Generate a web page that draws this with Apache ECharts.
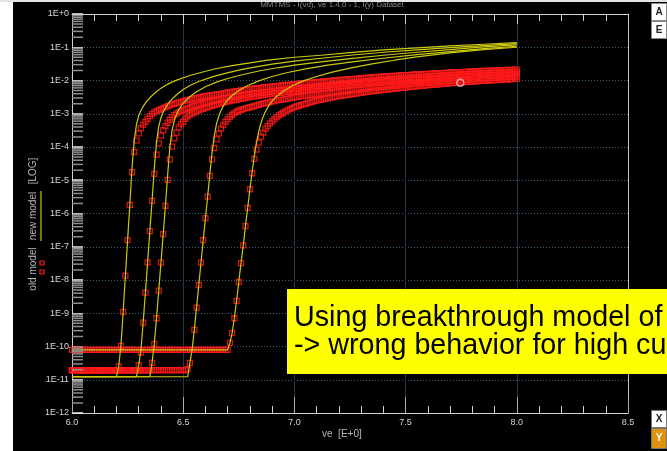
<!DOCTYPE html>
<html>
<head>
<meta charset="utf-8">
<script src="https://cdn.jsdelivr.net/npm/echarts@6/dist/echarts.min.js"></script>
<style>
  html, body { margin: 0; padding: 0; background: #ffffff; }
  #chart { width: 667px; height: 451px; }
</style>
</head>
<body>
<div id="chart"></div>
<script>
// Sweep of ve: 6.00 ... 8.00 V in 0.01 V steps (one old-model sample per step)
const veStart = 6.0;
const veStep = 0.01;
const veCount = 201;

// Axis ranges and tick spacing
const veMin = 6.0, veMax = 8.5, veTickStep = 0.5;
const logMin = -12, logMax = 0, logTickStep = 1;
const logMinorSteps = [2, 3, 4, 5, 6, 7, 8, 9];

// Old model: log10(current), one row = 10 samples (6.00-6.09, 6.10-6.19, ...), last value at 8.00
const oldModelA = [
  -10.71,-10.71,-10.71,-10.71,-10.71,-10.71,-10.71,-10.71,-10.71,-10.71,
  -10.71,-10.71,-10.71,-10.71,-10.71,-10.71,-10.71,-10.71,-10.71,-10.71,
  -10.71,-10.60,-9.98,-8.96,-7.87,-6.80,-5.74,-4.76,-4.15,-3.81,
  -3.59,-3.43,-3.33,-3.24,-3.15,-3.07,-3.01,-2.96,-2.92,-2.89,
  -2.86,-2.83,-2.80,-2.77,-2.75,-2.72,-2.70,-2.68,-2.66,-2.64,
  -2.62,-2.60,-2.59,-2.57,-2.56,-2.54,-2.53,-2.51,-2.50,-2.48,
  -2.47,-2.46,-2.45,-2.44,-2.43,-2.42,-2.41,-2.40,-2.39,-2.37,
  -2.36,-2.35,-2.34,-2.33,-2.32,-2.31,-2.30,-2.29,-2.28,-2.27,
  -2.26,-2.25,-2.24,-2.24,-2.23,-2.22,-2.21,-2.20,-2.20,-2.19,
  -2.18,-2.17,-2.17,-2.16,-2.15,-2.15,-2.14,-2.13,-2.13,-2.12,
  -2.11,-2.10,-2.10,-2.09,-2.09,-2.08,-2.07,-2.07,-2.06,-2.06,
  -2.05,-2.04,-2.04,-2.03,-2.03,-2.02,-2.01,-2.01,-2.00,-2.00,
  -1.99,-1.98,-1.98,-1.97,-1.97,-1.96,-1.96,-1.95,-1.95,-1.94,
  -1.93,-1.93,-1.92,-1.92,-1.91,-1.91,-1.90,-1.90,-1.89,-1.89,
  -1.88,-1.88,-1.87,-1.87,-1.86,-1.86,-1.86,-1.85,-1.85,-1.84,
  -1.84,-1.84,-1.83,-1.83,-1.82,-1.82,-1.82,-1.81,-1.81,-1.80,
  -1.80,-1.80,-1.79,-1.79,-1.79,-1.78,-1.78,-1.77,-1.77,-1.77,
  -1.76,-1.76,-1.76,-1.75,-1.75,-1.75,-1.74,-1.74,-1.74,-1.73,
  -1.73,-1.73,-1.72,-1.72,-1.72,-1.71,-1.71,-1.71,-1.70,-1.70,
  -1.70,-1.69,-1.69,-1.69,-1.69,-1.68,-1.68,-1.68,-1.68,-1.67,
  -1.67
];
const oldModelB = [
  -10.71,-10.71,-10.71,-10.71,-10.71,-10.71,-10.71,-10.71,-10.71,-10.71,
  -10.71,-10.71,-10.71,-10.71,-10.71,-10.71,-10.71,-10.71,-10.71,-10.71,
  -10.71,-10.71,-10.71,-10.71,-10.71,-10.71,-10.71,-10.71,-10.71,-10.71,
  -10.56,-10.18,-9.28,-8.38,-7.47,-6.53,-5.62,-4.81,-4.23,-3.89,
  -3.66,-3.49,-3.37,-3.27,-3.18,-3.10,-3.04,-2.99,-2.95,-2.92,
  -2.89,-2.86,-2.83,-2.81,-2.78,-2.76,-2.74,-2.72,-2.70,-2.68,
  -2.67,-2.65,-2.64,-2.62,-2.61,-2.59,-2.58,-2.57,-2.56,-2.54,
  -2.53,-2.52,-2.51,-2.50,-2.49,-2.47,-2.46,-2.45,-2.44,-2.43,
  -2.42,-2.41,-2.40,-2.39,-2.38,-2.37,-2.37,-2.36,-2.35,-2.34,
  -2.33,-2.32,-2.31,-2.31,-2.30,-2.29,-2.28,-2.27,-2.27,-2.26,
  -2.25,-2.24,-2.24,-2.23,-2.22,-2.22,-2.21,-2.20,-2.20,-2.19,
  -2.18,-2.17,-2.17,-2.16,-2.15,-2.15,-2.14,-2.13,-2.13,-2.12,
  -2.11,-2.10,-2.10,-2.09,-2.08,-2.08,-2.07,-2.07,-2.06,-2.05,
  -2.05,-2.04,-2.03,-2.03,-2.02,-2.01,-2.01,-2.00,-1.99,-1.99,
  -1.98,-1.98,-1.97,-1.97,-1.96,-1.96,-1.95,-1.95,-1.94,-1.94,
  -1.93,-1.93,-1.92,-1.92,-1.91,-1.91,-1.90,-1.90,-1.89,-1.89,
  -1.88,-1.88,-1.87,-1.87,-1.86,-1.86,-1.86,-1.85,-1.85,-1.84,
  -1.84,-1.84,-1.83,-1.83,-1.82,-1.82,-1.82,-1.81,-1.81,-1.80,
  -1.80,-1.80,-1.79,-1.79,-1.79,-1.78,-1.78,-1.78,-1.77,-1.77,
  -1.77,-1.76,-1.76,-1.76,-1.76,-1.75,-1.75,-1.75,-1.75,-1.74,
  -1.74
];
const oldModelC = [
  -10.71,-10.71,-10.71,-10.71,-10.71,-10.71,-10.71,-10.71,-10.71,-10.71,
  -10.71,-10.71,-10.71,-10.71,-10.71,-10.71,-10.71,-10.71,-10.71,-10.71,
  -10.71,-10.71,-10.71,-10.71,-10.71,-10.71,-10.71,-10.71,-10.71,-10.71,
  -10.71,-10.71,-10.71,-10.71,-10.71,-10.71,-10.49,-9.92,-9.15,-8.32,
  -7.48,-6.62,-5.77,-4.99,-4.37,-3.99,-3.74,-3.57,-3.41,-3.31,
  -3.24,-3.15,-3.08,-3.03,-2.99,-2.96,-2.93,-2.90,-2.87,-2.85,
  -2.82,-2.80,-2.78,-2.76,-2.74,-2.72,-2.70,-2.68,-2.66,-2.65,
  -2.63,-2.62,-2.60,-2.59,-2.58,-2.56,-2.55,-2.54,-2.53,-2.51,
  -2.50,-2.49,-2.48,-2.47,-2.46,-2.45,-2.44,-2.43,-2.42,-2.41,
  -2.40,-2.39,-2.38,-2.38,-2.37,-2.36,-2.35,-2.34,-2.34,-2.33,
  -2.32,-2.31,-2.31,-2.30,-2.29,-2.29,-2.28,-2.27,-2.27,-2.26,
  -2.25,-2.24,-2.24,-2.23,-2.22,-2.22,-2.21,-2.20,-2.20,-2.19,
  -2.18,-2.17,-2.17,-2.16,-2.15,-2.15,-2.14,-2.14,-2.13,-2.12,
  -2.12,-2.11,-2.10,-2.10,-2.09,-2.08,-2.08,-2.07,-2.06,-2.06,
  -2.05,-2.05,-2.04,-2.04,-2.03,-2.03,-2.02,-2.02,-2.01,-2.01,
  -2.00,-2.00,-1.99,-1.99,-1.98,-1.98,-1.97,-1.97,-1.96,-1.96,
  -1.95,-1.95,-1.94,-1.94,-1.93,-1.93,-1.93,-1.92,-1.92,-1.91,
  -1.91,-1.91,-1.90,-1.90,-1.89,-1.89,-1.89,-1.88,-1.88,-1.87,
  -1.87,-1.87,-1.86,-1.86,-1.86,-1.85,-1.85,-1.85,-1.84,-1.84,
  -1.84,-1.83,-1.83,-1.83,-1.82,-1.82,-1.82,-1.81,-1.81,-1.80,
  -1.80
];
const oldModelD = [
  -10.71,-10.71,-10.71,-10.71,-10.71,-10.71,-10.71,-10.71,-10.71,-10.71,
  -10.71,-10.71,-10.71,-10.71,-10.71,-10.71,-10.71,-10.71,-10.71,-10.71,
  -10.71,-10.71,-10.71,-10.71,-10.71,-10.71,-10.71,-10.71,-10.71,-10.71,
  -10.71,-10.71,-10.71,-10.71,-10.71,-10.71,-10.71,-10.71,-10.71,-10.71,
  -10.71,-10.71,-10.71,-10.71,-10.71,-10.71,-10.71,-10.71,-10.71,-10.71,
  -10.71,-10.71,-10.68,-10.49,-10.10,-9.50,-8.83,-8.15,-7.48,-6.80,
  -6.14,-5.49,-4.87,-4.37,-4.03,-3.77,-3.59,-3.45,-3.34,-3.24,
  -3.16,-3.09,-3.03,-2.98,-2.94,-2.91,-2.88,-2.86,-2.84,-2.82,
  -2.81,-2.79,-2.77,-2.75,-2.73,-2.71,-2.69,-2.68,-2.66,-2.65,
  -2.63,-2.62,-2.60,-2.59,-2.58,-2.57,-2.56,-2.55,-2.53,-2.52,
  -2.51,-2.50,-2.49,-2.48,-2.47,-2.46,-2.45,-2.44,-2.43,-2.42,
  -2.42,-2.41,-2.40,-2.39,-2.38,-2.37,-2.36,-2.36,-2.35,-2.34,
  -2.33,-2.32,-2.32,-2.31,-2.30,-2.29,-2.29,-2.28,-2.27,-2.26,
  -2.26,-2.25,-2.24,-2.23,-2.23,-2.22,-2.21,-2.20,-2.20,-2.19,
  -2.18,-2.17,-2.17,-2.16,-2.16,-2.15,-2.14,-2.14,-2.13,-2.13,
  -2.12,-2.11,-2.11,-2.10,-2.10,-2.09,-2.08,-2.08,-2.07,-2.07,
  -2.06,-2.06,-2.05,-2.05,-2.04,-2.04,-2.03,-2.03,-2.02,-2.02,
  -2.01,-2.01,-2.00,-2.00,-1.99,-1.99,-1.98,-1.98,-1.97,-1.97,
  -1.96,-1.96,-1.95,-1.95,-1.94,-1.94,-1.94,-1.93,-1.93,-1.92,
  -1.92,-1.92,-1.91,-1.91,-1.90,-1.90,-1.90,-1.89,-1.89,-1.88,
  -1.88
];
const oldModelE = [
  -10.10,-10.10,-10.10,-10.10,-10.10,-10.10,-10.10,-10.10,-10.10,-10.10,
  -10.10,-10.10,-10.10,-10.10,-10.10,-10.10,-10.10,-10.10,-10.10,-10.10,
  -10.10,-10.10,-10.10,-10.10,-10.10,-10.10,-10.10,-10.10,-10.10,-10.10,
  -10.10,-10.10,-10.10,-10.10,-10.10,-10.10,-10.10,-10.10,-10.10,-10.10,
  -10.10,-10.10,-10.10,-10.10,-10.10,-10.10,-10.10,-10.10,-10.10,-10.10,
  -10.10,-10.10,-10.10,-10.10,-10.10,-10.10,-10.10,-10.10,-10.10,-10.10,
  -10.10,-10.10,-10.10,-10.10,-10.10,-10.10,-10.10,-10.10,-10.10,-10.10,
  -10.10,-9.89,-9.60,-9.15,-8.63,-8.06,-7.49,-6.96,-6.38,-5.83,
  -5.27,-4.79,-4.36,-4.08,-3.87,-3.69,-3.57,-3.45,-3.37,-3.29,
  -3.22,-3.16,-3.10,-3.05,-3.01,-2.97,-2.93,-2.90,-2.86,-2.83,
  -2.80,-2.78,-2.76,-2.74,-2.72,-2.70,-2.68,-2.66,-2.64,-2.62,
  -2.60,-2.59,-2.58,-2.56,-2.55,-2.54,-2.52,-2.51,-2.50,-2.48,
  -2.47,-2.46,-2.45,-2.44,-2.43,-2.42,-2.41,-2.40,-2.39,-2.38,
  -2.37,-2.36,-2.35,-2.34,-2.33,-2.32,-2.31,-2.30,-2.30,-2.29,
  -2.28,-2.27,-2.27,-2.26,-2.25,-2.24,-2.24,-2.23,-2.22,-2.22,
  -2.21,-2.20,-2.19,-2.19,-2.18,-2.17,-2.17,-2.16,-2.15,-2.15,
  -2.14,-2.13,-2.13,-2.12,-2.12,-2.11,-2.11,-2.10,-2.10,-2.09,
  -2.08,-2.08,-2.07,-2.07,-2.06,-2.06,-2.05,-2.05,-2.04,-2.04,
  -2.03,-2.03,-2.02,-2.02,-2.01,-2.01,-2.01,-2.00,-2.00,-1.99,
  -1.99,-1.99,-1.98,-1.98,-1.97,-1.97,-1.97,-1.96,-1.96,-1.95,
  -1.95
];

// New model: [ve, log10(current)] breakpoints of each curve
const newModelA = [
  [6.00,-10.91],[6.20,-10.91],[6.21,-10.60],[6.22,-9.98],[6.23,-8.96],[6.24,-7.87],
  [6.25,-6.80],[6.26,-5.74],[6.27,-4.60],[6.28,-3.80],[6.29,-3.32],[6.30,-3.06],
  [6.31,-2.90],[6.32,-2.78],[6.33,-2.68],[6.34,-2.59],[6.35,-2.52],[6.37,-2.39],
  [6.40,-2.23],[6.43,-2.11],[6.47,-1.99],[6.53,-1.85],[6.58,-1.76],[6.65,-1.64],
  [6.72,-1.55],[6.80,-1.47],[6.88,-1.39],[7.00,-1.30],[7.12,-1.24],[7.25,-1.16],
  [7.40,-1.08],[7.55,-1.02],[7.70,-0.96],[7.85,-0.91],[8.00,-0.86]
];
const newModelB = [
  [6.00,-10.91],[6.29,-10.91],[6.30,-10.56],[6.31,-10.10],[6.32,-9.28],[6.33,-8.38],
  [6.34,-7.47],[6.35,-6.53],[6.36,-5.62],[6.37,-4.65],[6.38,-3.85],[6.39,-3.38],
  [6.40,-3.12],[6.41,-2.95],[6.42,-2.82],[6.43,-2.72],[6.44,-2.63],[6.45,-2.56],
  [6.47,-2.43],[6.50,-2.27],[6.53,-2.15],[6.57,-2.03],[6.63,-1.89],[6.68,-1.80],
  [6.75,-1.69],[6.82,-1.60],[6.90,-1.51],[7.00,-1.42],[7.12,-1.33],[7.25,-1.24],
  [7.40,-1.15],[7.55,-1.08],[7.70,-1.01],[7.85,-0.95],[8.00,-0.89]
];
const newModelC = [
  [6.00,-10.91],[6.35,-10.91],[6.36,-10.49],[6.37,-9.92],[6.38,-9.15],[6.39,-8.32],
  [6.40,-7.48],[6.41,-6.62],[6.42,-5.77],[6.43,-4.85],[6.44,-4.00],[6.45,-3.50],
  [6.46,-3.20],[6.47,-3.02],[6.48,-2.88],[6.49,-2.77],[6.50,-2.68],[6.51,-2.61],
  [6.53,-2.49],[6.56,-2.34],[6.60,-2.19],[6.65,-2.05],[6.70,-1.94],[6.77,-1.82],
  [6.85,-1.70],[6.93,-1.61],[7.00,-1.54],[7.12,-1.44],[7.25,-1.34],[7.40,-1.24],
  [7.55,-1.15],[7.70,-1.07],[7.85,-0.99],[8.00,-0.93]
];
const newModelD = [
  [6.00,-10.91],[6.52,-10.91],[6.53,-10.49],[6.54,-10.10],[6.55,-9.50],[6.56,-8.83],
  [6.57,-8.15],[6.58,-7.48],[6.59,-6.80],[6.60,-6.14],[6.61,-5.49],[6.62,-4.80],
  [6.63,-4.15],[6.64,-3.65],[6.65,-3.30],[6.66,-3.07],[6.67,-2.90],[6.68,-2.77],
  [6.69,-2.67],[6.70,-2.58],[6.72,-2.45],[6.75,-2.30],[6.79,-2.15],[6.84,-2.01],
  [6.90,-1.88],[6.97,-1.76],[7.05,-1.65],[7.15,-1.54],[7.27,-1.43],[7.40,-1.33],
  [7.55,-1.22],[7.70,-1.13],[7.85,-1.04],[8.00,-0.97]
];
const newModelE = [
  [6.00,-10.10],[6.70,-10.10],[6.71,-9.89],[6.72,-9.60],[6.73,-9.15],[6.74,-8.63],
  [6.75,-8.06],[6.76,-7.49],[6.77,-6.96],[6.78,-6.38],[6.79,-5.83],[6.80,-5.27],
  [6.81,-4.75],[6.82,-4.25],[6.83,-3.85],[6.84,-3.52],[6.85,-3.27],[6.86,-3.08],
  [6.87,-2.93],[6.88,-2.81],[6.89,-2.71],[6.90,-2.62],[6.92,-2.48],[6.95,-2.32],
  [6.99,-2.16],[7.04,-2.01],[7.10,-1.88],[7.17,-1.75],[7.25,-1.63],[7.35,-1.50],
  [7.45,-1.39],[7.55,-1.29],[7.70,-1.17],[7.85,-1.07],[8.00,-1.00]
];

// Highlighted (cursor) sample
const cursorPoint = [[7.746, -2.07]];

const oldModelCurves = [oldModelA, oldModelB, oldModelC, oldModelD, oldModelE];
const newModelCurves = [newModelA, newModelB, newModelC, newModelD, newModelE];

const veGrid = [];
for (let i = 0; i < veCount; i++) veGrid.push(+(veStart + i * veStep).toFixed(2));

// Log-axis minor tick positions (2..9 within every decade)
const logMinorTicks = [];
for (let e = logMin; e < logMax; e++) {
  logMinorSteps.forEach(m => logMinorTicks.push([veMin, e + Math.log10(m)]));
}

const FONT = 'Liberation Sans, Arial, sans-serif';
const RED = '#ff1a1a';
const YELLOW = '#cdc90c';

const chart = echarts.init(document.getElementById('chart'), null, { renderer: 'canvas' });

const series = [];
oldModelCurves.forEach(curve => {
  series.push({
    type: 'scatter',
    xAxisIndex: 0, yAxisIndex: 0,
    data: curve.map((y, i) => [veGrid[i], y]),
    symbol: 'rect',
    symbolSize: 5,
    itemStyle: { color: 'rgba(0,0,0,0)', borderColor: RED, borderWidth: 1.3 },
    silent: true,
    z: 3
  });
});
newModelCurves.forEach(curve => {
  series.push({
    type: 'line',
    xAxisIndex: 0, yAxisIndex: 0,
    data: curve,
    showSymbol: false,
    lineStyle: { color: YELLOW, width: 1.2 },
    silent: true,
    z: 4
  });
});
series.push({
  type: 'scatter',
  xAxisIndex: 0, yAxisIndex: 0,
  data: cursorPoint,
  symbol: 'circle',
  symbolSize: 7,
  itemStyle: { color: 'rgba(0,0,0,0)', borderColor: '#f2c6c6', borderWidth: 1.5 },
  silent: true,
  z: 6
});
series.push({
  type: 'custom',
  xAxisIndex: 0, yAxisIndex: 0,
  data: logMinorTicks,
  silent: true,
  clip: false,
  z: 5,
  renderItem: (params, api) => {
    const p = api.coord([api.value(0), api.value(1)]);
    return {
      type: 'line',
      shape: { x1: p[0], y1: p[1], x2: p[0] + 11, y2: p[1] },
      style: { stroke: '#8e8e8e', lineWidth: 1.5 }
    };
  }
});

const xAxisBase = {
  type: 'value',
  min: veMin,
  max: veMax,
  interval: veTickStep
};

chart.setOption({
  animation: false,
  backgroundColor: '#000000',
  grid: { left: 72, top: 14, width: 556, height: 399, containLabel: false },
  xAxis: [
    Object.assign({}, xAxisBase, {
      position: 'bottom',
      axisLine: { show: true, onZero: false, lineStyle: { color: '#d0d0d0', width: 1 } },
      axisTick: { show: true, inside: true, length: 16, lineStyle: { color: '#9fb2be', width: 1 } },
      minorTick: { show: true, splitNumber: 5, length: 7, lineStyle: { color: '#cfcfcf', width: 1 } },
      axisLabel: { color: '#d6d6d6', fontSize: 9, fontFamily: FONT, margin: 5, formatter: v => v.toFixed(1) },
      splitLine: { show: true, lineStyle: { color: '#1f3949', width: 1 } }
    }),
    Object.assign({}, xAxisBase, {
      position: 'top',
      axisLine: { show: true, onZero: false, lineStyle: { color: '#d0d0d0', width: 1 } },
      axisTick: { show: true, inside: true, length: 10, lineStyle: { color: '#cfcfcf', width: 1 } },
      minorTick: { show: true, splitNumber: 5, length: 7, lineStyle: { color: '#cfcfcf', width: 1 } },
      axisLabel: { show: false },
      splitLine: { show: false }
    })
  ],
  yAxis: [
    {
      type: 'value',
      position: 'left',
      min: logMin,
      max: logMax,
      interval: logTickStep,
      axisLine: { show: true, onZero: false, lineStyle: { color: '#d0d0d0', width: 1 } },
      axisTick: { show: true, inside: true, length: 11, lineStyle: { color: '#eeeeee', width: 1.5 } },
      axisLabel: {
        color: '#d6d6d6', fontSize: 9, fontFamily: FONT, margin: 3,
        formatter: v => '1E' + (v >= 0 ? '+' + v : String(v))
      },
      splitLine: { show: true, lineStyle: { color: '#3b6179', width: 1, type: [1, 2] } }
    },
    {
      type: 'value',
      position: 'right',
      min: logMin,
      max: logMax,
      interval: logTickStep,
      axisLine: { show: true, onZero: false, lineStyle: { color: '#bdbdbd', width: 1 } },
      axisTick: { show: false },
      axisLabel: { show: false },
      splitLine: { show: false }
    }
  ],
  series: series,
  graphic: [
    { type: 'rect', z: 100, shape: { x: 0, y: 0, width: 13, height: 451 }, style: { fill: '#ffffff' } },
    { type: 'rect', z: 100, shape: { x: 0, y: 0, width: 667, height: 2 }, style: { fill: '#e4e4e4' } },
    { type: 'text', z: 100, x: 332, y: 5, style: { text: 'MMTMS - I(vd), ve 1.4.0 - 1, I(y) Dataset', fill: '#8a8a8a', font: '8px ' + FONT, align: 'center', verticalAlign: 'middle' } },

    // axis title column with the series keys
    { type: 'text', z: 100, x: 33, y: 171, rotation: Math.PI / 2, style: { text: '[LOG]', fill: '#b8b8b8', font: '10px ' + FONT, align: 'center', verticalAlign: 'middle' } },
    { type: 'text', z: 100, x: 33, y: 216, rotation: Math.PI / 2, style: { text: 'new model', fill: '#b8b8b8', font: '10px ' + FONT, align: 'center', verticalAlign: 'middle' } },
    { type: 'text', z: 100, x: 33, y: 269, rotation: Math.PI / 2, style: { text: 'old model', fill: '#b8b8b8', font: '10px ' + FONT, align: 'center', verticalAlign: 'middle' } },
    { type: 'line', z: 100, shape: { x1: 41, y1: 191, x2: 41, y2: 241 }, style: { stroke: YELLOW, lineWidth: 1.2 } },
    { type: 'rect', z: 100, shape: { x: 40, y: 261, width: 4, height: 4 }, style: { fill: 'none', stroke: RED, lineWidth: 1.2 } },
    { type: 'rect', z: 100, shape: { x: 40, y: 270, width: 4, height: 4 }, style: { fill: 'none', stroke: RED, lineWidth: 1.2 } },

    // x axis title
    { type: 'text', z: 100, x: 322, y: 434, style: { text: 've  [E+0]', fill: '#b8b8b8', font: '10px ' + FONT, align: 'left', verticalAlign: 'middle' } },

    // annotation
    { type: 'rect', z: 110, shape: { x: 287, y: 289, width: 400, height: 85 }, style: { fill: '#ffff00' } },
    { type: 'text', z: 111, x: 294, y: 318, style: { text: 'Using breakthrough model of', fill: '#000000', font: '28.7px ' + FONT, align: 'left', verticalAlign: 'middle' } },
    { type: 'text', z: 111, x: 294, y: 346, style: { text: '-> wrong behavior for high currents', fill: '#000000', font: '28.7px ' + FONT, align: 'left', verticalAlign: 'middle' } },

    // panel buttons
    { type: 'rect', z: 100, shape: { x: 651.5, y: 3.5, width: 15, height: 17 }, style: { fill: '#ffffff', stroke: '#8a8a8a', lineWidth: 1 } },
    { type: 'text', z: 101, x: 659, y: 12, style: { text: 'A', fill: '#222222', font: 'bold 10px ' + FONT, align: 'center', verticalAlign: 'middle' } },
    { type: 'rect', z: 100, shape: { x: 651.5, y: 21.5, width: 15, height: 17 }, style: { fill: '#ffffff', stroke: '#8a8a8a', lineWidth: 1 } },
    { type: 'text', z: 101, x: 659, y: 30, style: { text: 'E', fill: '#222222', font: 'bold 10px ' + FONT, align: 'center', verticalAlign: 'middle' } },
    { type: 'rect', z: 100, shape: { x: 651.5, y: 410.5, width: 15, height: 17 }, style: { fill: '#ffffff', stroke: '#777777', lineWidth: 1 } },
    { type: 'text', z: 101, x: 659, y: 419, style: { text: 'X', fill: '#222222', font: 'bold 10px ' + FONT, align: 'center', verticalAlign: 'middle' } },
    { type: 'rect', z: 100, shape: { x: 651.5, y: 428.5, width: 15, height: 20 }, style: { fill: '#e0920f', stroke: '#777777', lineWidth: 1 } },
    { type: 'text', z: 101, x: 659, y: 438, style: { text: 'Y', fill: '#ffffff', font: 'bold 10px ' + FONT, align: 'center', verticalAlign: 'middle' } }
  ]
});
</script>
</body>
</html>
